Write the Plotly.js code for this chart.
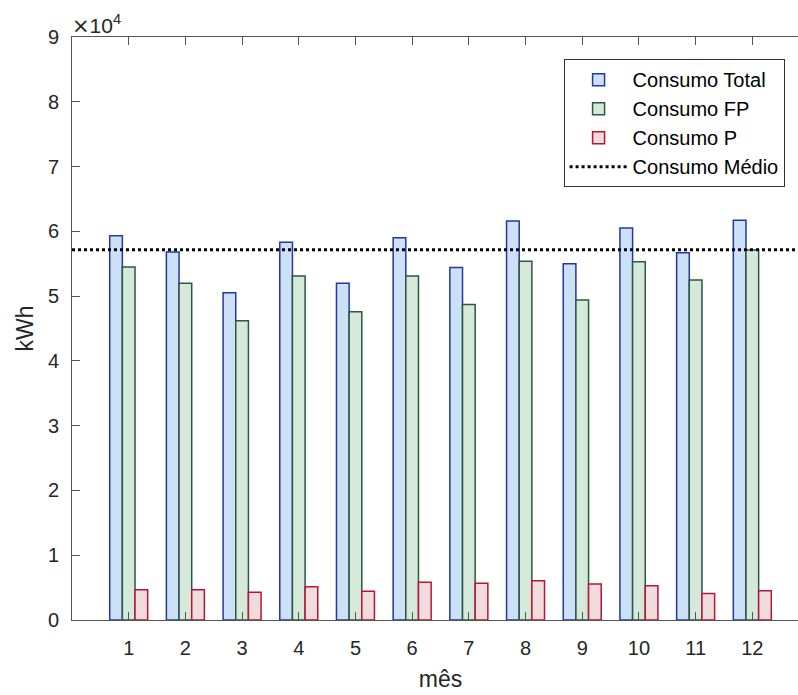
<!DOCTYPE html>
<html>
<head>
<meta charset="utf-8">
<script src="https://cdn.plot.ly/plotly-3.0.1.min.js"></script>
<style>
html,body{margin:0;padding:0;overflow:hidden;background:#fff;width:798px;height:695px;}
#chart{width:830px;height:695px;}
</style>
</head>
<body>
<div id="chart"></div>
<script>
const months = [1,2,3,4,5,6,7,8,9,10,11,12];
const consumoTotal = [59300,56800,50500,58300,52000,59000,54400,61600,55000,60500,56700,61700];
const consumoFP    = [54500,52000,46200,53100,47600,53100,48700,55400,49400,55300,52500,57100];
const consumoP     = [4680,4680,4270,5140,4420,5810,5660,6070,5550,5300,4110,4520];
const consumoMedio = 57150;
const yTickLabels = ["0","1","2","3","4","5","6","7","8","9"];
const yScale = 10000;

const font = "Liberation Sans, Arial, Helvetica, sans-serif";
const traces = [
  {type:"bar", name:"Consumo Total", x:months, y:consumoTotal,
   marker:{color:"rgb(204,224,247)", line:{color:"rgb(35,55,165)", width:1.5}}},
  {type:"bar", name:"Consumo FP", x:months, y:consumoFP,
   marker:{color:"rgb(214,232,218)", line:{color:"rgb(40,90,60)", width:1.5}}},
  {type:"bar", name:"Consumo P", x:months, y:consumoP,
   marker:{color:"rgb(240,220,222)", line:{color:"rgb(185,20,50)", width:1.5}}},
  {type:"scatter", mode:"lines", name:"Consumo Médio",
   x:[0, months.length+1], y:[consumoMedio, consumoMedio],
   line:{color:"#000", width:3, dash:"dot"}}
];
const layout = {
  width:830, height:695,
  margin:{l:72, r:21, t:37, b:75},
  paper_bgcolor:"#fff", plot_bgcolor:"#fff",
  barmode:"group", bargap:0.33, bargroupgap:0,
  font:{family:font, color:"#262626", size:20},
  showlegend:true,
  legend:{x:0.667, y:0.962, xanchor:"left", yanchor:"top",
    bgcolor:"#fff", bordercolor:"#333", borderwidth:1, itemwidth:58,
    font:{family:font, size:20, color:"#000"}, tracegroupgap:0},
  xaxis:{range:[0, months.length+1], tickvals:months, ticktext:months.map(String),
    ticks:"inside", ticklen:8, tickcolor:"#555", showline:true, linecolor:"#555", linewidth:1,
    mirror:"ticks", showgrid:false, zeroline:false, ticklabelstandoff:10,
    tickfont:{size:20, color:"#262626"},
    title:{text:"mês", font:{size:23, color:"#262626"}, standoff:12}},
  yaxis:{range:[0, 9*yScale], tickvals:yTickLabels.map((t,i)=>i*yScale), ticktext:yTickLabels,
    ticks:"inside", ticklen:8, tickcolor:"#555", showline:true, linecolor:"#555", linewidth:1,
    mirror:"ticks", showgrid:false, zeroline:false, ticklabelstandoff:8,
    tickfont:{size:20, color:"#262626"},
    title:{text:"kWh", font:{size:23, color:"#262626"}, standoff:7}},
  annotations:[{xref:"paper", yref:"paper", x:0, y:1, xanchor:"left", yanchor:"bottom",
    text:"<span style=\"font-family:DejaVu Sans\">×</span>10<sup>4</sup>", showarrow:false,
    font:{size:21, color:"#262626"}, xshift:-2, yshift:-3}]
};
Plotly.newPlot("chart", traces, layout, {displayModeBar:false, staticPlot:true});
</script>
</body>
</html>
